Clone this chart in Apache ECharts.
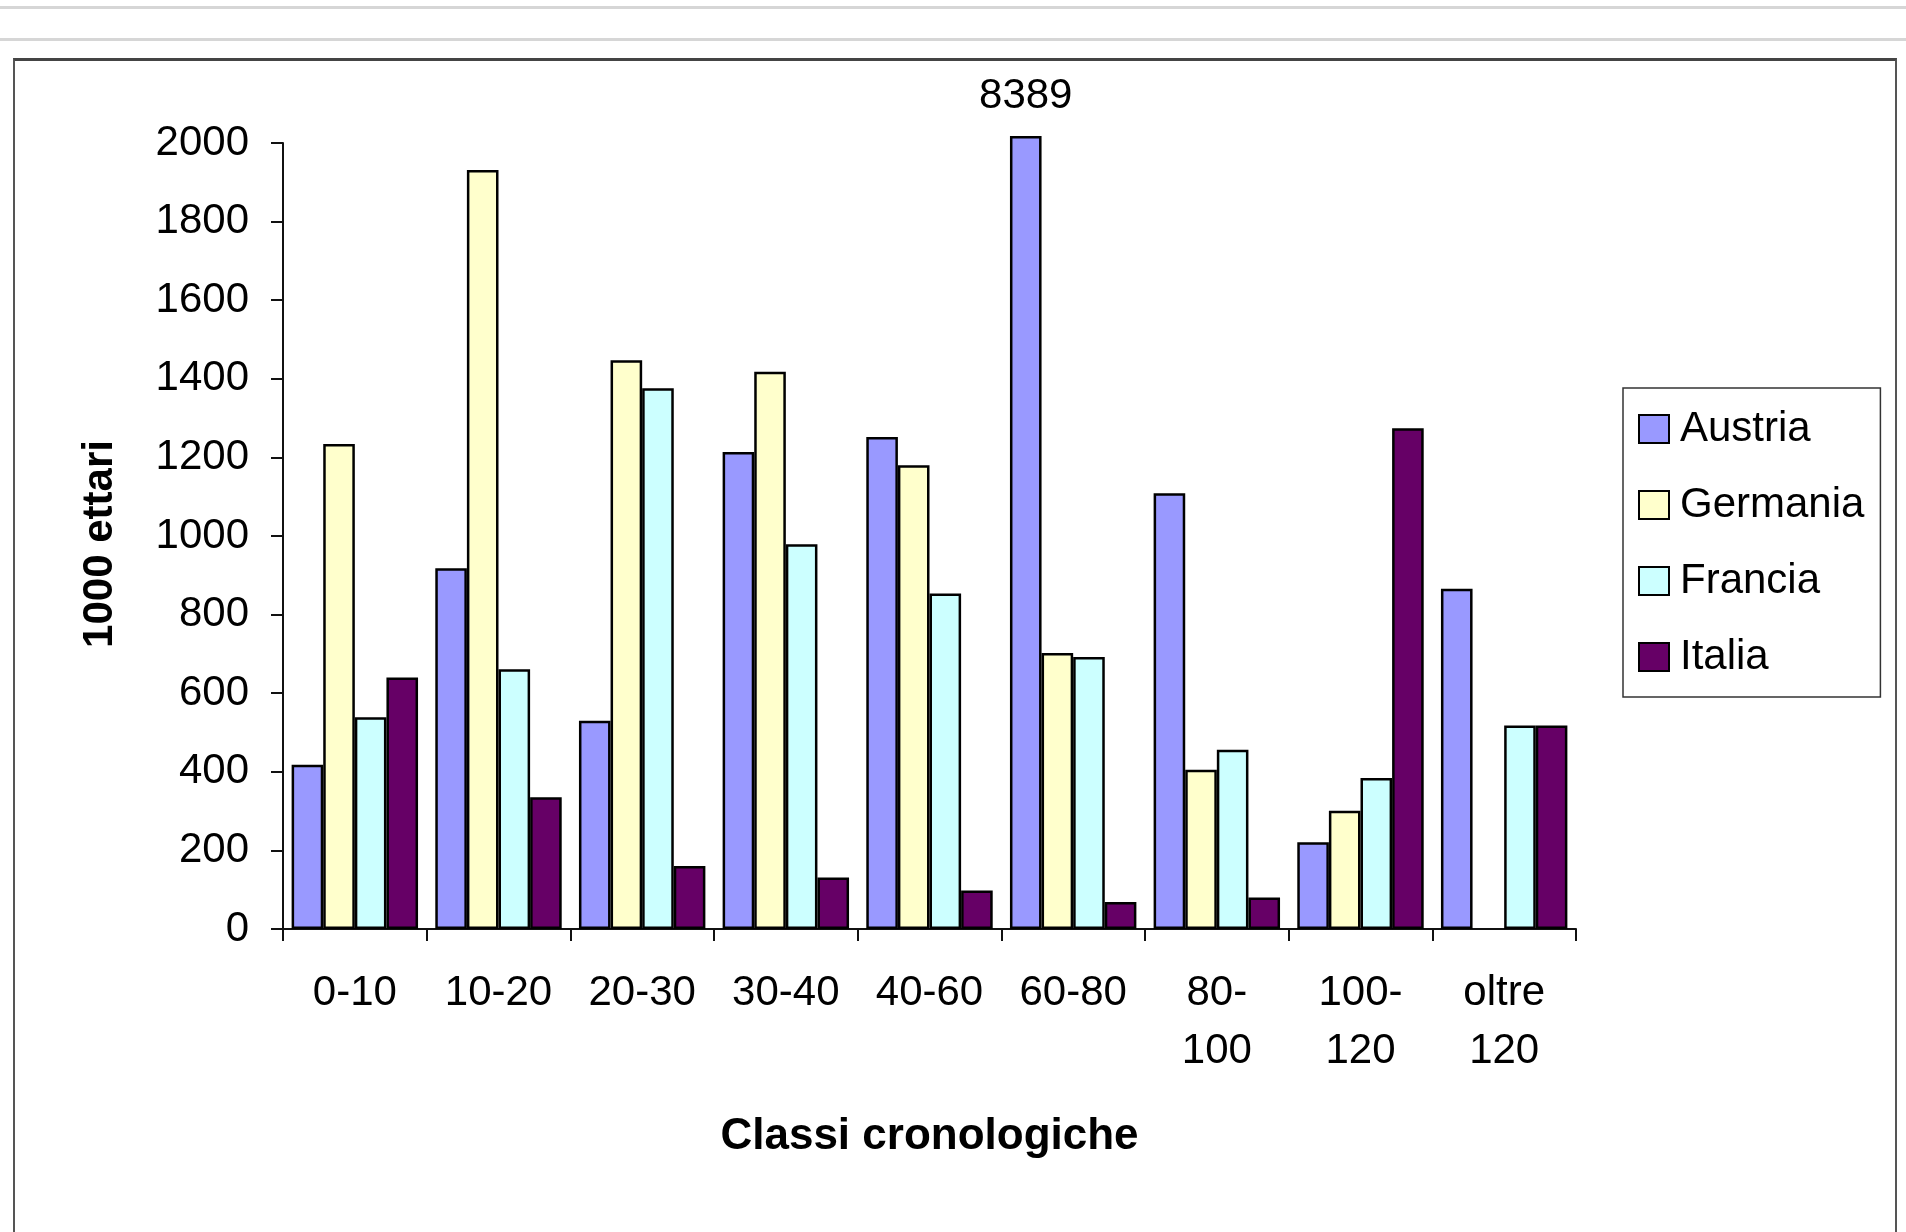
<!DOCTYPE html>
<html>
<head>
<meta charset="utf-8">
<script src="https://cdn.jsdelivr.net/npm/echarts@6/dist/echarts.min.js"></script>
<style>
  html, body { margin: 0; padding: 0; background: #fff; }
  body { width: 1906px; height: 1232px; position: relative; overflow: hidden; }
  .hline { position: absolute; left: 0; width: 1906px; height: 3px; background: #d6d6d6; }
  #box { position: absolute; left: 13px; top: 58px; width: 1880px; height: 1300px;
         border-left: 2px solid #555; border-right: 2px solid #555; border-top: 3px solid #444; }
  #chart { position: absolute; left: 0; top: 0; width: 1906px; height: 1232px; }
</style>
</head>
<body>
<div class="hline" style="top:6px"></div>
<div class="hline" style="top:38px"></div>
<div id="box"></div>
<div id="chart"></div>
<script>
// ---- data ----
const categories = ['0-10', '10-20', '20-30', '30-40', '40-60', '60-80', '80-\n100', '100-\n120', 'oltre\n120'];
const seriesNames = ['Austria', 'Germania', 'Francia', 'Italia'];
const austria  = [418, 918, 530, 1214, 1252, 8389, 1109, 221, 866];
const germania = [1234, 1931, 1447, 1418, 1180, 702, 405, 301, null];
const francia  = [539, 661, 1376, 979, 854, 692, 456, 384, 518];
const italia   = [640, 335, 160, 131, 98, 69, 80, 1274, 518];
const yMin = 0, yMax = 2000, yInterval = 200;
const overflowCap = 2018; // drawn height of a bar that runs off the scale

const colors = ['#9999FF', '#FFFFCC', '#CCFFFF', '#660066'];
const FONT = "'Liberation Sans', Arial, sans-serif";

function prep(arr) {
  return arr.map(v => {
    if (v !== null && v > yMax) {
      return { value: overflowCap, label: { show: true, formatter: String(v) } };
    }
    return v === null ? '-' : v;
  });
}

const allSeries = [austria, germania, francia, italia].map((arr, i) => ({
  name: seriesNames[i],
  type: 'bar',
  data: prep(arr),
  clip: false,
  barGap: '0%',
  barCategoryGap: '12%',
  itemStyle: { color: colors[i], borderColor: '#000', borderWidth: 2.5 },
  label: { show: false, position: 'top', distance: 19, color: '#000', fontSize: 42, fontFamily: FONT },
  emphasis: { disabled: true }
}));

const chart = echarts.init(document.getElementById('chart'), null, { renderer: 'canvas' });
chart.setOption({
  animation: false,
  backgroundColor: 'transparent',
  textStyle: { fontFamily: FONT },
  grid: { left: 283, right: 330, top: 143, bottom: 303, containLabel: false },
  legend: {
    orient: 'vertical',
    left: 1623, top: 388,
    padding: [20, 16, 19, 15],
    itemWidth: 30, itemHeight: 28, itemGap: 34,
    icon: 'rect',
    borderColor: '#333', borderWidth: 1.5,
    itemStyle: { borderColor: '#000', borderWidth: 2 },
    textStyle: { fontSize: 42, color: '#000', fontFamily: FONT, padding: [0, 0, 0, 6] },
    data: seriesNames
  },
  xAxis: {
    type: 'category',
    data: categories,
    name: 'Classi cronologiche',
    nameLocation: 'middle',
    nameGap: 186,
    nameTextStyle: { fontSize: 44, fontWeight: 'bold', color: '#000', fontFamily: FONT },
    axisLine: { lineStyle: { color: '#111', width: 2 } },
    axisTick: { show: true, length: 12, interval: 0, lineStyle: { color: '#111', width: 2 } },
    axisLabel: { interval: 0, fontSize: 42, lineHeight: 58, color: '#000', margin: 35, fontFamily: FONT },
    splitLine: { show: false }
  },
  yAxis: {
    type: 'value',
    min: yMin, max: yMax, interval: yInterval,
    name: '1000 ettari',
    nameLocation: 'middle',
    nameRotate: 90,
    nameGap: 162,
    nameTextStyle: { fontSize: 42, fontWeight: 'bold', color: '#000', fontFamily: FONT, padding: [0, 16, 0, 0] },
    axisLine: { show: true, lineStyle: { color: '#111', width: 2 } },
    axisTick: { show: true, length: 12, lineStyle: { color: '#111', width: 2 } },
    axisLabel: { fontSize: 42, color: '#000', margin: 34, fontFamily: FONT, formatter: v => String(v) },
    splitLine: { show: false }
  },
  series: allSeries
});
</script>
</body>
</html>
